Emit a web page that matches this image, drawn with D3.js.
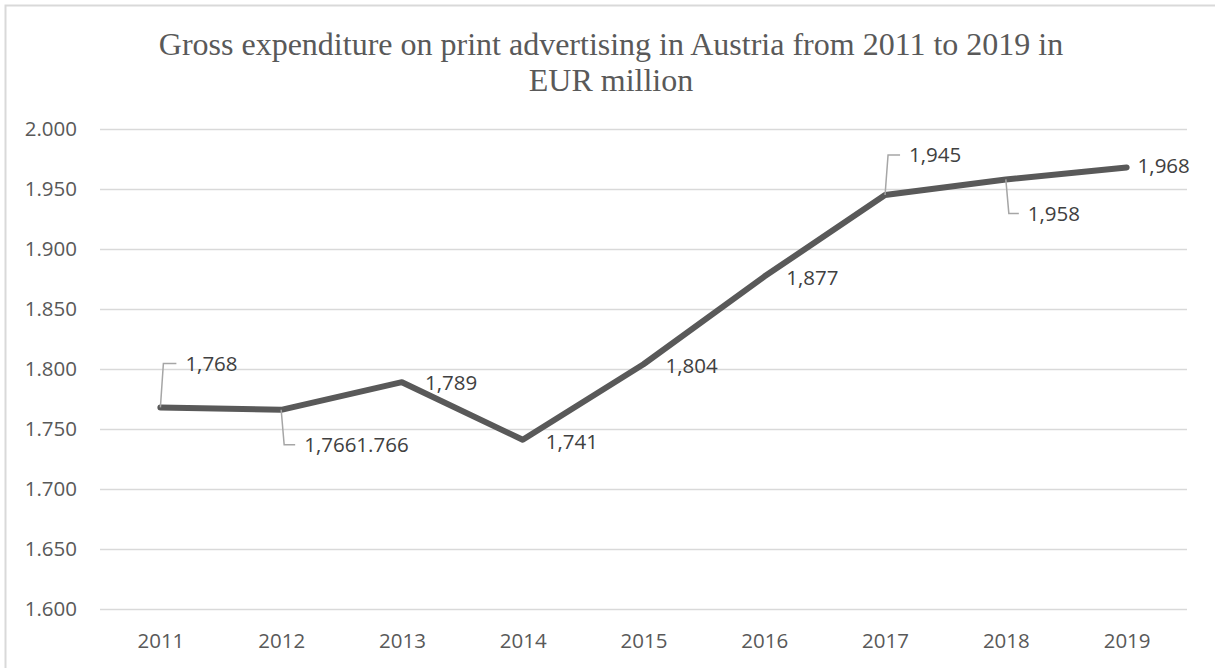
<!DOCTYPE html>
<html>
<head>
<meta charset="utf-8">
<script src="https://cdn.jsdelivr.net/npm/d3@7"></script>
<style>
  html, body { margin: 0; padding: 0; background: #ffffff; }
  svg { display: block; }
</style>
</head>
<body>
<svg id="chart" width="1215" height="668"></svg>
<script>
// Gross print advertising spend, Austria (EUR million)
const years = ["2011", "2012", "2013", "2014", "2015", "2016", "2017", "2018", "2019"];
const spend = [1768, 1766, 1789, 1741, 1804, 1877, 1945, 1958, 1968];
const pointLabels = ["1,768", "1,7661.766", "1,789", "1,741", "1,804", "1,877", "1,945", "1,958", "1,968"];
const yTicks = [1600, 1650, 1700, 1750, 1800, 1850, 1900, 1950, 2000];
const titleLines = [
  "Gross expenditure on print advertising in Austria from 2011 to 2019 in",
  "EUR million"
];

const W = 1215, H = 668;
const plot = { left: 100, right: 1187, top: 129, bottom: 609 };

const svg = d3.select("#chart");

// outer frame (only top and left edges fall inside the viewport)
svg.append("rect")
  .attr("x", 5.5).attr("y", 5.5)
  .attr("width", W + 20).attr("height", H + 20)
  .attr("fill", "#ffffff")
  .attr("stroke", "#d9d9d9")
  .attr("stroke-width", 2);

// title
svg.append("text")
  .attr("text-anchor", "middle")
  .attr("font-family", "'Liberation Serif', 'Times New Roman', serif")
  .attr("font-size", 32)
  .attr("fill", "#595959")
  .selectAll("tspan")
  .data(titleLines)
  .join("tspan")
  .attr("x", 611)
  .attr("y", (d, i) => 55 + i * 36)
  .text(d => d);

const x = d3.scalePoint().domain(years).range([plot.left, plot.right]).padding(0.5);
const y = d3.scaleLinear().domain([1600, 2000]).range([plot.bottom, plot.top]);

const euroFmt = d3.formatLocale({ decimal: ",", thousands: ".", grouping: [3], currency: ["", " €"] });

// value axis with gridlines
const yAxis = svg.append("g")
  .attr("transform", `translate(${plot.left},0)`)
  .call(d3.axisLeft(y)
    .tickValues(yTicks)
    .tickFormat(euroFmt.format(",.0f"))
    .tickSizeInner(-(plot.right - plot.left))
    .tickSizeOuter(0)
    .tickPadding(23));
yAxis.select(".domain").remove();
yAxis.selectAll(".tick line").attr("stroke", "#d9d9d9").attr("stroke-width", 1.3);
yAxis.selectAll(".tick text")
  .attr("font-family", "'Open Sans', sans-serif")
  .attr("font-size", 20.5)
  .attr("fill", "#595959");

// category axis
const xAxis = svg.append("g")
  .attr("transform", `translate(0,${plot.bottom})`)
  .call(d3.axisBottom(x).tickSize(0).tickPadding(24));
xAxis.select(".domain").remove();
xAxis.selectAll(".tick text")
  .attr("font-family", "'Open Sans', sans-serif")
  .attr("font-size", 20.5)
  .attr("fill", "#595959");

// series line
const pts = years.map((yr, i) => ({ yr, v: spend[i], label: pointLabels[i] }));
svg.append("path")
  .datum(pts)
  .attr("fill", "none")
  .attr("stroke", "#595959")
  .attr("stroke-width", 6)
  .attr("stroke-linecap", "round")
  .attr("stroke-linejoin", "round")
  .attr("d", d3.line().x(d => x(d.yr)).y(d => y(d.v)));

// data label placement: offset of label start from the point, and whether a leader is drawn
const labelPlacement = [
  { dx: 25, dy: -44, leader: true },
  { dx: 23, dy: 35, leader: true },
  { dx: 23, dy: 1, leader: false },
  { dx: 23, dy: 2, leader: false },
  { dx: 22, dy: 2, leader: false },
  { dx: 22, dy: 1, leader: false },
  { dx: 24, dy: -40, leader: true },
  { dx: 22, dy: 34, leader: true },
  { dx: 11, dy: -2, leader: false }
];

const labels = svg.append("g");
pts.forEach((p, i) => {
  const px = x(p.yr), py = y(p.v);
  const pl = labelPlacement[i];
  const tx = px + pl.dx, ty = py + pl.dy;
  if (pl.leader) {
    labels.append("path")
      .attr("fill", "none")
      .attr("stroke", "#a6a6a6")
      .attr("stroke-width", 1.5)
      .attr("d", `M${px},${py} L${px + 3},${ty} L${tx - 9},${ty}`);
  }
  labels.append("text")
    .attr("x", tx)
    .attr("y", ty)
    .attr("dy", "0.35em")
    .attr("font-family", "'Open Sans', sans-serif")
    .attr("font-size", 20.5)
    .attr("fill", "#404040")
    .text(p.label);
});
</script>
</body>
</html>
